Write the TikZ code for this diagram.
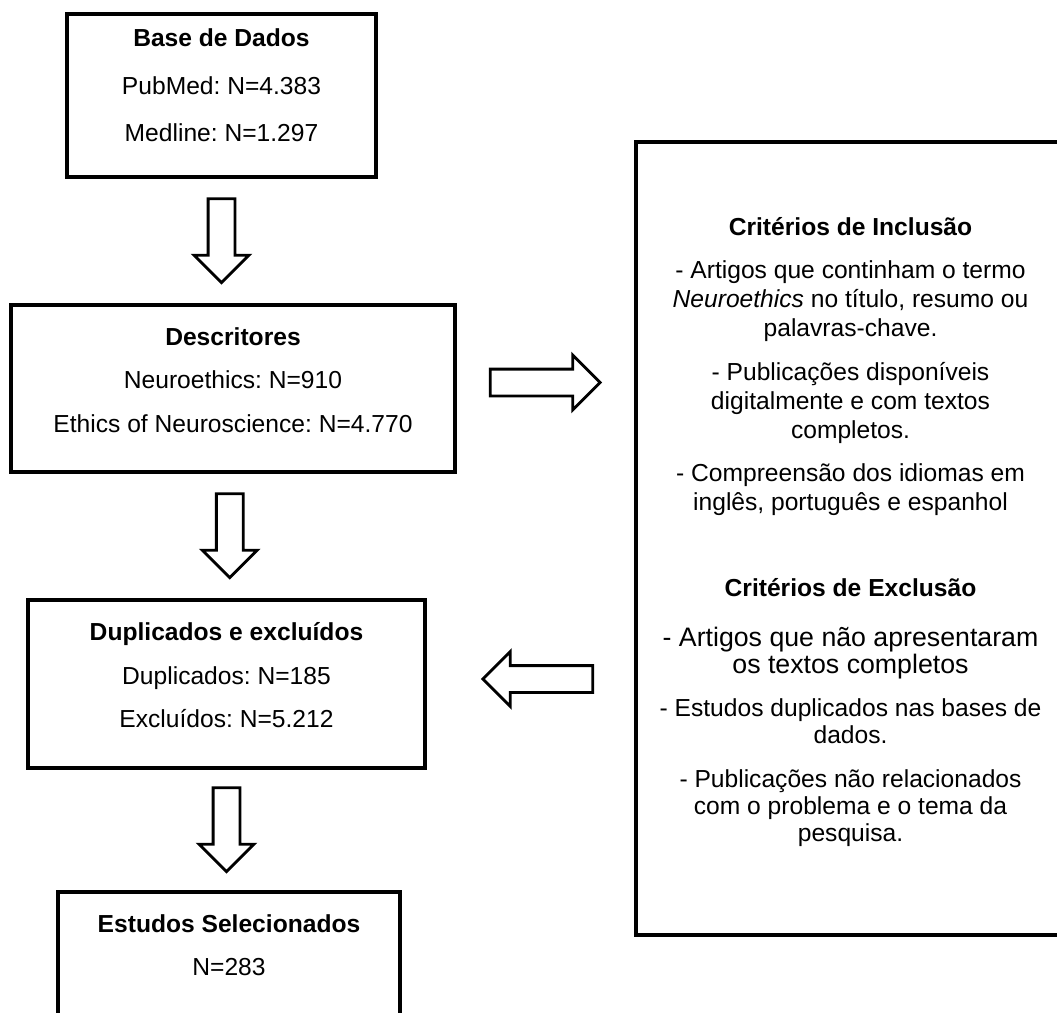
\documentclass[tikz,border=0pt]{standalone}
\usepackage{fontspec}
\setmainfont{Liberation Sans}
\frenchspacing
\usetikzlibrary{positioning,shapes.arrows,calc}

\begin{document}
\begin{tikzpicture}[x=0.025cm,y=-0.025cm,
    font=\fontsize{17.5}{21}\selectfont,
    box/.style={draw, line width=2.6pt},
    boxtext/.style={align=center, inner sep=0pt, anchor=north},
    critext/.style={boxtext, font=\fontsize{17.5}{20.6}\selectfont},
    fatarrow/.style={single arrow, draw, line width=2pt, inner xsep=0pt, inner ysep=0.3cm,
        single arrow head extend=0.35cm, single arrow tip angle=90, minimum height=2.1cm}]

\useasboundingbox (0,0) rectangle (1057,1012);

\node[box, minimum width=7.725cm, minimum height=4.075cm] (base) at (221.5,95.5) {};
\node[boxtext, below=0.4cm of base.north] (base-txt) {\textbf{Base de Dados}\\[13pt] PubMed: N=4.383\\[13pt] Medline: N=1.297};

\node[box, minimum width=11.1cm, minimum height=4.175cm] (desc) at (233,388.5) {};
\node[boxtext, below=0.6cm of desc.north] (desc-txt) {\textbf{Descritores}\\[10pt] Neuroethics: N=910\\[10pt] Ethics of Neuroscience: N=4.770};

\node[box, minimum width=9.925cm, minimum height=4.2cm] (dup) at (226.5,684) {};
\node[boxtext, below=0.6cm of dup.north] (dup-txt) {\textbf{Duplicados e excluídos}\\[10pt] Duplicados: N=185\\[10pt] Excluídos: N=5.212};

\node[box, minimum width=8.55cm, minimum height=3.5cm] (sel) at (229,962) {};
\node[boxtext, below=0.6cm of sel.north] (sel-txt) {\textbf{Estudos Selecionados}\\[10pt] N=283};

\node[box, minimum width=10.725cm, minimum height=19.825cm] (crit) at (850.5,538.5) {};
\node[critext, below=1.925cm of crit.north] (incl) {\textbf{Critérios de Inclusão}\\[10pt]
    - Artigos que continham o termo\\ \textit{Neuroethics} no título, resumo ou\\ palavras-chave.\\[10.5pt]
    - Publicações disponíveis\\ digitalmente e com textos\\ completos.\\[10.5pt]
    - Compreensão dos idiomas em\\ inglês, português e espanhol};
\node[critext, font=\fontsize{17.5}{19.2}\selectfont, below=10.95cm of crit.north] (excl) {\textbf{Critérios de Exclusão}\\[16pt]
    {\fontsize{19}{20}\selectfont - Artigos que não apresentaram}\\ {\fontsize{19}{20}\selectfont os textos completos}\\[12pt]
    - Estudos duplicados nas bases de\\ dados.\\[12pt]
    - Publicações não relacionados\\ com o problema e o tema da\\ pesquisa.};

\node[fatarrow, rotate=-90] (arr-a) at ($(base.south)!.5!(base.south |- desc.north) + (0,-7)$) {};
\node[fatarrow, rotate=-90] (arr-b) at ($(desc.south)!.5!(dup.north) + (0,-7)$) {};
\node[fatarrow, rotate=-90] (arr-c) at ($(dup.south)!.5!(dup.south |- sel.north) + (0,-7)$) {};
\node[fatarrow, minimum height=2.75cm] (arr-in) at ($(desc.east)!.5!(desc.east -| crit.west) + (-7,-6)$) {};
\node[fatarrow, minimum height=2.75cm, rotate=180] (arr-out) at ($(dup.east)!.5!(dup.east -| crit.west) + (14,-5)$) {};

\end{tikzpicture}
\end{document}
